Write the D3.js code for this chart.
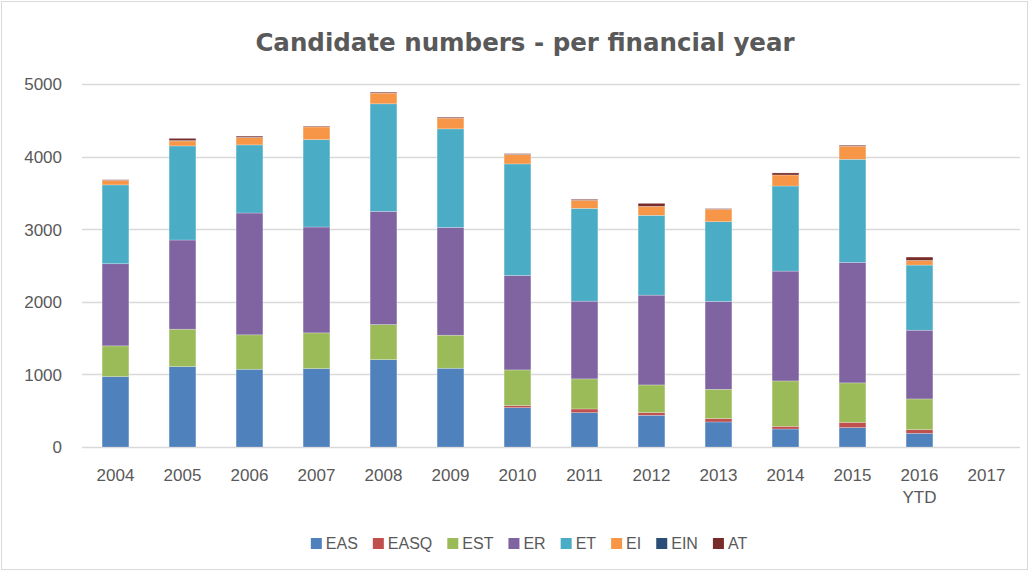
<!DOCTYPE html>
<html>
<head>
<meta charset="utf-8">
<script src="https://cdnjs.cloudflare.com/ajax/libs/d3/7.8.5/d3.min.js"></script>
<style>
  body { margin: 0; background: #fff; }
  #chart text { fill: #595959; }
</style>
</head>
<body>
<div id="chart"></div>
<script>
// values
var years = ["2004", "2005", "2006", "2007", "2008", "2009", "2010", "2011", "2012", "2013", "2014", "2015", "2016 YTD", "2017"];
var seriesNames = ["EAS", "EASQ", "EST", "ER", "ET", "EI", "EIN", "AT"];
var seriesColors = ["#4f81bd", "#c0504d", "#9bbb59", "#8064a2", "#4bacc6", "#f79646", "#2c4d75", "#772c2a"];

var EAS  = [970, 1108, 1071, 1080, 1204, 1085, 542, 473, 437, 345, 248, 267, 189, 0];
var EASQ = [0, 0, 0, 0, 0, 0, 28, 51, 36, 46, 37, 73, 50, 0];
var EST  = [423, 515, 474, 492, 483, 455, 492, 414, 382, 404, 625, 543, 423, 0];
var ER   = [1131, 1228, 1678, 1458, 1559, 1485, 1301, 1071, 1237, 1210, 1513, 1660, 947, 0];
var ET   = [1086, 1296, 938, 1204, 1481, 1357, 1536, 1278, 1099, 1098, 1172, 1420, 897, 0];
var EI   = [63, 69, 101, 175, 147, 147, 129, 111, 124, 171, 152, 180, 64, 0];
var EIN  = [0, 5, 5, 0, 0, 0, 5, 0, 0, 0, 0, 0, 0, 0];
var AT   = [8, 30, 15, 10, 13, 13, 8, 13, 41, 9, 28, 13, 46, 0];
var yTicks = [0, 1000, 2000, 3000, 4000, 5000];

var W = 1029, H = 571;
var margin = { left: 82, right: 9, top: 84, bottom: 124 };

var svg = d3.select('#chart').append('svg')
  .attr('width', W)
  .attr('height', H)
  .style('font-family', '"Liberation Sans", Arial, sans-serif');

// chart border
svg.append('rect')
  .attr('x', 1.5).attr('y', 1.5)
  .attr('width', W - 3).attr('height', H - 3)
  .attr('fill', 'none')
  .attr('stroke', '#d9d9d9');

svg.append('text')
  .attr('x', 525)
  .attr('y', 51)
  .attr('text-anchor', 'middle')
  .style('font-family', '"DejaVu Sans", Verdana, sans-serif')
  .style('font-weight', 'bold')
  .style('font-size', '24.5px')
  .text('Candidate numbers - per financial year');

var x = d3.scaleBand()
  .domain(years)
  .range([margin.left, W - margin.right])
  .paddingInner(0.6)
  .paddingOuter(0.3);

var y = d3.scaleLinear()
  .domain([0, 5000])
  .range([H - margin.bottom, margin.top]);

// gridlines
svg.append('g').selectAll('line').data(yTicks)
  .enter().append('line')
  .attr('x1', margin.left)
  .attr('x2', W - margin.right)
  .attr('y1', function (d) { return Math.round(y(d)) + 0.5; })
  .attr('y2', function (d) { return Math.round(y(d)) + 0.5; })
  .attr('stroke', '#d9d9d9')
  .attr('stroke-width', 1.5);

var yAxis = svg.append('g')
  .attr('transform', 'translate(' + (margin.left - 20) + ',0)')
  .call(d3.axisLeft(y).tickValues(yTicks).tickSize(0).tickPadding(0).tickFormat(d3.format('d')));
yAxis.select('.domain').remove();
yAxis.selectAll('text').style('font-size', '17px').attr('dy', '0.35em');

// stacked data
var rows = years.map(function (yr, i) {
  return { year: yr, EAS: EAS[i], EASQ: EASQ[i], EST: EST[i], ER: ER[i], ET: ET[i], EI: EI[i], EIN: EIN[i], AT: AT[i] };
});
var stacked = d3.stack().keys(seriesNames)(rows);

svg.append('g').selectAll('g').data(stacked)
  .enter().append('g')
  .attr('fill', function (d, i) { return seriesColors[i]; })
  .selectAll('rect').data(function (d) { return d; })
  .enter().append('rect')
  .attr('x', function (d) { return x(d.data.year); })
  .attr('width', x.bandwidth())
  .attr('y', function (d) { return y(d[1]); })
  .attr('height', function (d) { return Math.max(0, y(d[0]) - y(d[1])); })
  .attr('stroke', '#ffffff')
  .attr('stroke-opacity', 0.4)
  .attr('stroke-width', function (d) { return (d[1] - d[0]) > 0 ? 0.6 : 0; });

// x labels
var xl = svg.append('g').selectAll('text').data(years)
  .enter().append('text')
  .attr('x', function (d) { return x(d) + x.bandwidth() / 2; })
  .attr('y', 481)
  .attr('text-anchor', 'middle')
  .style('font-size', '17px');
xl.each(function (d) {
  var parts = d.split(' ');
  var t = d3.select(this);
  parts.forEach(function (p, k) {
    t.append('tspan')
      .attr('x', x(d) + x.bandwidth() / 2)
      .attr('dy', k === 0 ? 0 : 22)
      .text(p);
  });
});

// legend
var legend = svg.append('g');
var lx = 0;
seriesNames.forEach(function (name, i) {
  var g = legend.append('g').attr('transform', 'translate(' + lx + ',0)');
  g.append('rect')
    .attr('x', 0).attr('y', -11)
    .attr('width', 11).attr('height', 11)
    .attr('fill', seriesColors[i]);
  var t = g.append('text')
    .attr('x', 15).attr('y', 0)
    .style('font-size', '16px')
    .text(name);
  lx += 15 + t.node().getComputedTextLength() + 15;
});
lx -= 15;
legend.attr('transform', 'translate(' + (529 - lx / 2) + ',549)');
</script>
</body>
</html>
